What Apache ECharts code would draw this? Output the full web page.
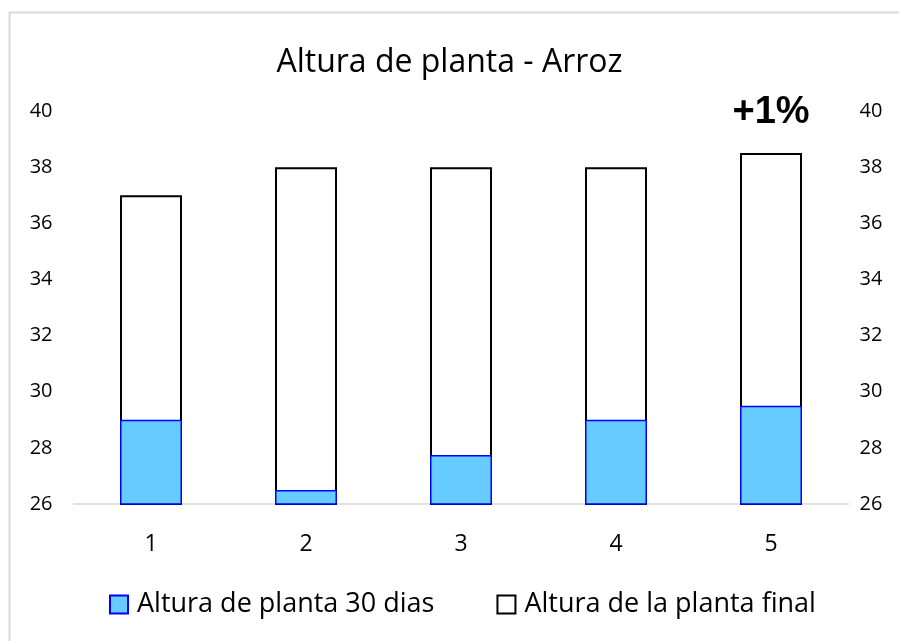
<!DOCTYPE html>
<html>
<head>
<meta charset="utf-8">
<script src="https://cdn.jsdelivr.net/npm/echarts@6/dist/echarts.min.js"></script>
<style>
  html, body { margin: 0; padding: 0; background: #fff; }
  #chart { width: 899px; height: 641px; }
</style>
</head>
<body>
<div id="chart"></div>
<script>
    var categories = ['1', '2', '3', '4', '5'];
    var altura30 = [29, 26.5, 27.75, 29, 29.5];
    var alturaFinal = [37, 38, 38, 38, 38.5];
    var anotaciones = ['', '', '', '', '+1%'];
    var seriesNames = ['Altura de planta 30 dias', 'Altura de la planta final'];

    var myChart = echarts.init(document.getElementById('chart'));

    var fontFam = '"Open Sans", sans-serif';

    var yAxisBase = {
        type: 'value',
        min: 26,
        max: 40,
        interval: 2,
        splitLine: { show: false },
        axisLine: { show: false },
        axisTick: { show: false },
        axisLabel: { color: '#000', fontSize: 20, fontFamily: fontFam }
    };

    var option = {
        backgroundColor: '#fff',
        animation: false,
        title: {
            text: 'Altura de planta - Arroz',
            left: 'center',
            top: 42,
            textStyle: { fontFamily: fontFam, fontWeight: 'normal', fontSize: 32, color: '#000' }
        },
        graphic: [{
            type: 'rect',
            shape: { x: 9.5, y: 12.5, width: 900, height: 640 },
            style: { fill: 'none', stroke: '#d9d9d9', lineWidth: 2 },
            silent: true
        }],
        legend: {
            data: seriesNames,
            top: 586,
            left: 104,
            icon: 'rect',
            itemWidth: 18,
            itemHeight: 18,
            itemGap: 62,
            textStyle: { fontFamily: fontFam, fontSize: 27, color: '#000', padding: [0, 0, 0, 4] }
        },
        grid: { left: 73.5, right: 50.5, top: 111, bottom: 137 },
        xAxis: {
            type: 'category',
            data: categories,
            axisLine: { lineStyle: { color: '#d9d9d9', width: 1.5 } },
            axisTick: { show: false },
            axisLabel: { color: '#000', fontSize: 23, fontFamily: fontFam, margin: 29 }
        },
        yAxis: [
            Object.assign({}, yAxisBase, { position: 'left', axisLabel: Object.assign({}, yAxisBase.axisLabel, { margin: 21 }) }),
            Object.assign({}, yAxisBase, { position: 'right', axisLabel: Object.assign({}, yAxisBase.axisLabel, { margin: 11 }) })
        ],
        series: [
            {
                name: seriesNames[0],
                type: 'bar',
                data: altura30,
                barWidth: 62,
                z: 3,
                itemStyle: { color: '#66ccff', borderColor: '#0000ff', borderWidth: 1.5 }
            },
            {
                name: seriesNames[1],
                type: 'bar',
                data: alturaFinal,
                barWidth: 62,
                barGap: '-100%',
                z: 2,
                itemStyle: { color: '#ffffff', borderColor: '#000000', borderWidth: 2 },
                label: {
                    show: true,
                    position: 'top',
                    distance: 22,
                    formatter: function (p) { return anotaciones[p.dataIndex]; },
                    fontFamily: '"Liberation Sans", Arial, sans-serif',
                    fontWeight: 'bold',
                    fontSize: 38,
                    color: '#000'
                }
            }
        ]
    };

    myChart.setOption(option);
</script>
</body>
</html>
